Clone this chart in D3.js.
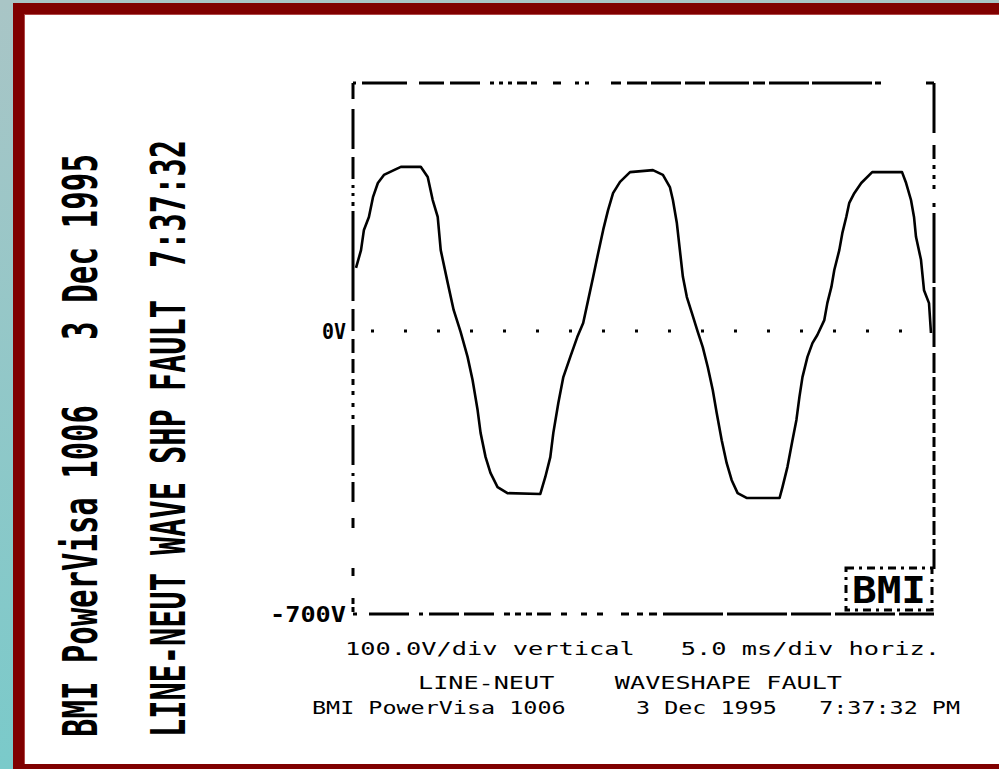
<!DOCTYPE html>
<html>
<head>
<meta charset="utf-8">
<script src="https://cdn.jsdelivr.net/npm/d3@7"></script>
<style>
  html, body { margin: 0; padding: 0; background: #fff; }
  svg { display: block; }
  text { white-space: pre; }
</style>
</head>
<body>
<div id="chart"></div>
<script>
// waveform capture: time in ms, voltage in V
const timeMs = [0.26, 0.69, 0.94, 1.37, 1.72, 2.14, 2.66, 3.52, 4.12, 5.83, 6.43, 6.86, 7.29, 7.55,
  8.15, 8.66, 9.26, 9.86, 10.29, 10.72, 10.98, 11.41, 11.83, 12.44, 13.29, 16.12, 16.55, 16.98,
  17.24, 17.67, 18.10, 18.70, 19.30, 19.81, 20.24, 20.67, 21.10, 21.53, 21.95, 22.38, 22.98,
  23.84, 25.81, 26.67, 27.27, 27.53, 27.87, 28.13, 28.39, 28.73, 29.16, 29.67, 30.10, 30.53,
  30.96, 31.30, 31.73, 32.16, 32.59, 33.10, 33.87, 36.71, 36.96, 37.39, 37.82, 38.16, 38.42,
  38.68, 39.11, 39.54, 39.96, 40.56, 40.82, 41.17, 41.42, 41.85, 42.11, 42.45, 42.71, 43.14,
  43.74, 44.68, 47.25, 47.60, 48.02, 48.28, 48.45, 48.88, 49.14, 49.57, 49.74];
const volts = [156, 200, 250, 282, 331, 366, 386, 398, 406, 406, 381, 324, 282, 200,
  119, 52, -2, -64, -121, -195, -252, -312, -351, -386, -401, -403, -361, -312,
  -252, -178, -114, -64, -15, 20, 77, 134, 193, 250, 299, 341, 369,
  393, 398, 386, 356, 324, 267, 200, 134, 84, 45, -2, -40, -89,
  -146, -203, -270, -327, -369, -401, -413, -413, -386, -336, -270, -220, -163,
  -114, -64, -30, -10, 27, 69, 109, 151, 200, 242, 282, 317, 341,
  366, 393, 393, 366, 324, 282, 233, 176, 101, 69, -5];

const yTickValues = [0, -700];
const yTickLabels = ["0V", "-700V"];

const sideLines = [
  ["BMI PowerVisa 1006", "3 Dec 1995"],
  ["LINE-NEUT WAVE SHP FAULT", "7:37:32"]
];
const footerLines = [
  "100.0V/div vertical   5.0 ms/div horiz.",
  "LINE-NEUT    WAVESHAPE FAULT",
  "BMI PowerVisa 1006     3 Dec 1995   7:37:32 PM"
];
const logoText = "BMI";

const width = 999, height = 769;
const plot = { left: 353, right: 934, top: 83, bottom: 614, zero: 331 };

const svg = d3.select("#chart").append("svg")
  .attr("width", width).attr("height", height)
  .attr("viewBox", [0, 0, width, height]);

// window chrome: teal strip, dark red frame
const defs = svg.append("defs");
const grad = defs.append("linearGradient").attr("id", "teal")
  .attr("x1", 0).attr("y1", 0).attr("x2", 0).attr("y2", 1);
grad.append("stop").attr("offset", "0%").attr("stop-color", "#a9c5c6");
grad.append("stop").attr("offset", "100%").attr("stop-color", "#7acaca");

svg.append("rect").attr("width", width).attr("height", height).attr("fill", "#fff");
svg.append("rect").attr("x", 0).attr("y", 0).attr("width", 13).attr("height", height).attr("fill", "url(#teal)");
svg.append("rect").attr("x", 0).attr("y", 0).attr("width", width).attr("height", 3).attr("fill", "#a9c5c6");
svg.append("rect").attr("x", 13).attr("y", 3).attr("width", width - 13).attr("height", 12).attr("fill", "#800000");
svg.append("rect").attr("x", 13).attr("y", 3).attr("width", 12).attr("height", height - 3).attr("fill", "#800000");
svg.append("rect").attr("x", 13).attr("y", 764).attr("width", width - 13).attr("height", 5).attr("fill", "#800000");
svg.append("line").attr("x1", 24.5).attr("x2", 24.5).attr("y1", 14).attr("y2", 764)
  .attr("stroke", "#b04848").attr("stroke-width", 1);
svg.append("line").attr("x1", 25).attr("x2", width).attr("y1", 14.5).attr("y2", 14.5)
  .attr("stroke", "#b04848").attr("stroke-width", 1);

// scales
const x = d3.scaleLinear().domain([0, 50]).range([plot.left, plot.right]);
const y = d3.scaleLinear().domain([-700, 0]).range([plot.bottom, plot.zero]);

const g = svg.append("g");

// dotted frame, like the scope printout
const frameStyle = (sel, dash) => sel.attr("stroke", "#000").attr("stroke-width", 3)
  .attr("fill", "none").attr("stroke-dasharray", dash);
frameStyle(g.append("line").attr("x1", plot.left).attr("x2", plot.right)
  .attr("y1", plot.top).attr("y2", plot.top),
  "3,6,45,12,25,6,30,10,4,5,4,5,4,5,10,4,6,16,8,14,4,6,4,22,10,6,20,4,30,4,20,4,40,4,12,4,40,3,60");
frameStyle(g.append("line").attr("x1", plot.left).attr("x2", plot.left)
  .attr("y1", plot.top).attr("y2", plot.bottom),
  "16,10,40,8,22,6,3,5,3,6,4,5,90,8,22,8,14,6,14,6,6,6,4,8,4,8,4,6,40,8,3,6,20");
frameStyle(g.append("line").attr("x1", plot.right).attr("x2", plot.right)
  .attr("y1", plot.top).attr("y2", plot.bottom),
  "50,12,14,6,4,6,4,6,4,14,4,6,70,4,60,6,20,4,14,4,10,4,10,4,10,4,10,4,10,4,10,4,10,4,10,4,10,4,14,4,6,4,20");
frameStyle(g.append("line").attr("x1", plot.left).attr("x2", plot.right)
  .attr("y1", plot.bottom).attr("y2", plot.bottom),
  "4,12,40,10,4,6,30,5,30,10,6,5,6,5,6,5,14,10,6,14,6,10,6,18,8,8,6,6,8,6,60,4,60,4,40,4,60,4,50");

// zero reference dots
g.append("line")
  .attr("x1", plot.left + 18).attr("x2", plot.right - 10)
  .attr("y1", y(0)).attr("y2", y(0))
  .attr("stroke", "#000").attr("stroke-width", 3)
  .attr("stroke-dasharray", "3,30");

// y labels
g.selectAll("text.ylab")
  .data(yTickValues)
  .join("text")
  .attr("class", "ylab")
  .attr("x", plot.left - 7)
  .attr("y", (d) => y(d) + 8)
  .attr("text-anchor", "end")
  .attr("font-family", "DejaVu Sans Mono")
  .attr("font-weight", "bold")
  .attr("font-size", 21)
  .attr("textLength", (d, i) => (yTickLabels[i].length === 2 ? 24 : 76))
  .attr("lengthAdjust", "spacingAndGlyphs")
  .text((d, i) => yTickLabels[i]);

// waveform
const line = d3.line()
  .x((d, i) => x(timeMs[i]))
  .y((d) => y(d));

g.append("path")
  .datum(volts)
  .attr("fill", "none")
  .attr("stroke", "#000")
  .attr("stroke-width", 2.6)
  .attr("stroke-linejoin", "round")
  .attr("d", line);

// BMI logo box, bottom right of the plot
const logo = g.append("g");
logo.append("rect")
  .attr("x", plot.right - 88).attr("y", plot.bottom - 46)
  .attr("width", 86).attr("height", 42)
  .attr("fill", "#fff").attr("stroke", "#000").attr("stroke-width", 3)
  .attr("stroke-dasharray", "8,5,3,5");
logo.append("text")
  .attr("x", plot.right - 45).attr("y", plot.bottom - 11)
  .attr("text-anchor", "middle")
  .attr("font-family", "DejaVu Sans Mono").attr("font-weight", "bold")
  .attr("font-size", 38)
  .attr("textLength", 74).attr("lengthAdjust", "spacingAndGlyphs")
  .text(logoText);

// rotated header text on the left
const sideCols = [
  { x: 97, parts: [{ y0: 737, len: 332 }, { y0: 340, len: 186 }] },
  { x: 185, parts: [{ y0: 737, len: 437 }, { y0: 268, len: 128 }] }
];
sideLines.forEach((txts, ci) => {
  txts.forEach((t, pi) => {
    const p = sideCols[ci].parts[pi];
    svg.append("text")
      .attr("transform", `translate(${sideCols[ci].x},${p.y0}) rotate(-90)`)
      .attr("font-family", "DejaVu Sans Mono")
      .attr("font-weight", "bold")
      .attr("font-size", 48)
      .attr("textLength", p.len)
      .attr("lengthAdjust", "spacingAndGlyphs")
      .text(t);
  });
});

// footer lines under the plot
const footerPos = [
  { x: 345, y: 655, len: 595 },
  { x: 418, y: 689, len: 424 },
  { x: 312, y: 714, len: 648 }
];
svg.selectAll("text.footer")
  .data(footerLines)
  .join("text")
  .attr("class", "footer")
  .attr("x", (d, i) => footerPos[i].x)
  .attr("y", (d, i) => footerPos[i].y)
  .attr("font-family", "DejaVu Sans Mono")
  .attr("font-size", 18)
  .attr("textLength", (d, i) => footerPos[i].len)
  .attr("lengthAdjust", "spacingAndGlyphs")
  .text((d) => d);
</script>
</body>
</html>
